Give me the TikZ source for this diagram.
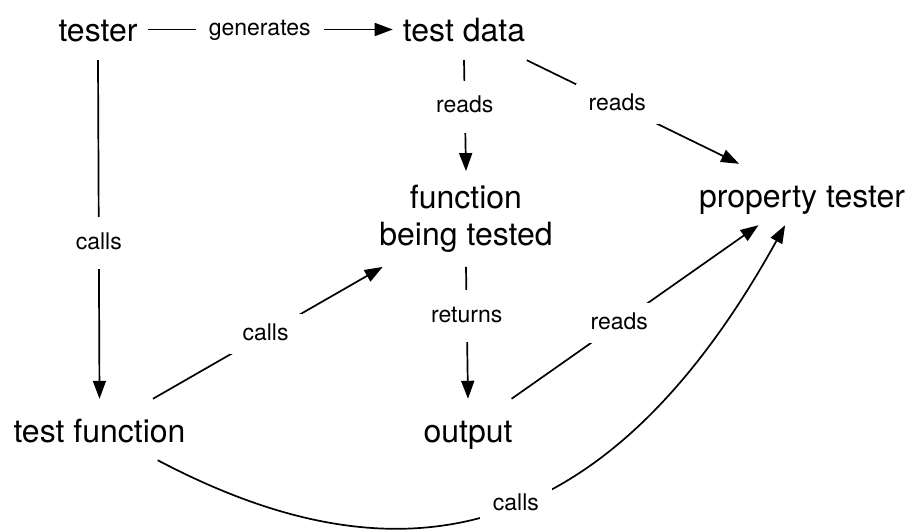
\documentclass[tikz,border=0pt]{standalone}
\usepackage{fontspec}
\setmainfont{TeX Gyre Heros}
\usetikzlibrary{arrows.meta}
\begin{document}
\begin{tikzpicture}[x=1pt,y=-1pt,
  main/.style={font=\fontsize{32}{37}\selectfont, text height=32pt, text depth=7pt, inner xsep=10pt, inner ysep=11pt},
  multi/.style={font=\fontsize{32}{37}\selectfont, align=center, inner xsep=10pt, inner ysep=14pt},
  lab/.style={font=\fontsize{23}{27}\selectfont, fill=white, text height=17pt, text depth=5pt, inner xsep=13pt, inner ysep=9pt},
  vlab/.style={lab, inner ysep=15pt},
  conn/.style={line width=1.7pt, -{Triangle[length=18pt,width=13pt]}}]
\useasboundingbox (0,0) rectangle (918,532);
\node[main] (tester) at (98,29.5) {tester};
\node[main] (td) at (464,29.5) {test data};
\node[multi] (fbt) at (466,219) {function\\being tested};
\node[main] (pt) at (802,194.5) {property tester};
\node[main] (tf) at (99.5,429.5) {test function};
\node[main] (out) at (468,429.5) {output};
\draw[conn] (tester) -- node[lab,pos=.457]{generates} (td);
\draw[conn] (tester.south) -- node[vlab,pos=.54]{calls} (tf.north);
\draw[conn] (td.south) -- node[vlab,pos=.42]{reads} (fbt.north);
\draw[conn] (td) -- node[lab,pos=.426]{reads} (pt);
\draw[conn] (tf) -- node[lab,pos=.49]{calls} (fbt);
\draw[conn] (fbt.south) -- node[vlab,pos=.375]{returns} (out.north);
\draw[conn] (out) -- node[lab,pos=.436]{reads} (pt);
\draw[conn] (tf) .. controls (370,572) and (590,578) .. node[lab,pos=.56]{calls} (pt);
\end{tikzpicture}
\end{document}
